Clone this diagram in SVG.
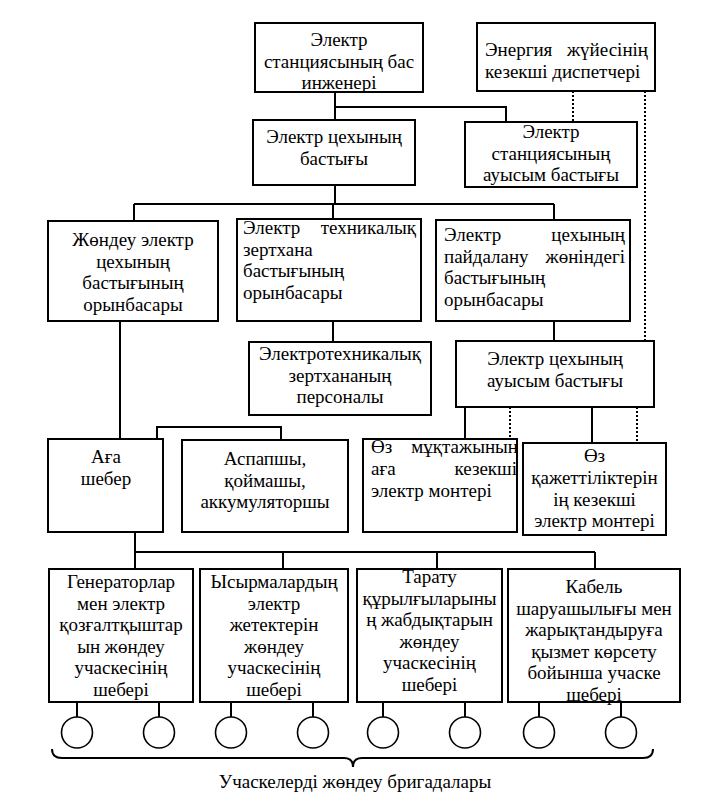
<svg xmlns="http://www.w3.org/2000/svg" width="714" height="808" viewBox="0 0 714 808">
<style>
text{font-family:"Liberation Serif","Times New Roman",serif;font-size:19px;fill:#000}
.c{text-anchor:middle}
.e{text-anchor:end}
.box{fill:#fff;stroke:#000;stroke-width:2}
.ln{fill:none;stroke:#000;stroke-width:2}
.dot{fill:none;stroke:#000;stroke-width:2;stroke-dasharray:2,2}
.cir{fill:#fff;stroke:#000;stroke-width:1.6}
</style>
<rect width="714" height="808" fill="#fff"/>
<g id="connectors">
<path class="ln" d="M335 92V120M335 107H506V122M335 185V204M134 204H554M134 204V221M333 204V219M554 204V220M333 321V342M554 321V341M120 321V439M157 439V427H281V440M465 407V439M592 407V443M135 532V569M135 552H595M283 552V569M437 552V569M595 552V569"/>
<path class="ln" d="M77 702V717M159 702V717M231 702V717M313 702V717M383 702V717M465 702V717M539 702V717M621 702V717"/>
<path class="dot" d="M573 91V122M645 91V341M510 407V439M637 407V443"/>
<path class="ln" stroke-width="1.6" d="M52 749Q52 758 62 758H344Q353 758 353 767Q353 758 362 758H643Q653 758 653 749"/>
</g>
<g id="n1"><rect class="box" x="255" y="23" width="168" height="69"/>
<text class="c" x="339" y="46">Электр</text><text class="c" x="339" y="67.5">станциясының бас</text><text class="c" x="339" y="89">инженері</text></g>
<g id="n2"><rect class="box" x="477" y="23" width="178" height="68"/>
<text x="485" y="56">Энергия</text><text class="e" x="648" y="56">жүйесінің</text><text x="485" y="78">кезекші диспетчері</text></g>
<g id="n3"><rect class="box" x="253" y="120" width="162" height="65"/>
<text class="c" x="334" y="143">Электр цехының</text><text class="c" x="334" y="165">бастығы</text></g>
<g id="n4"><rect class="box" x="465" y="122" width="172" height="65"/>
<text class="c" x="551" y="138">Электр</text><text class="c" x="551" y="159.5">станциясының</text><text class="c" x="551" y="181">ауысым бастығы</text></g>
<g id="n5"><rect class="box" x="48" y="221" width="170" height="100"/>
<text class="c" x="133" y="246">Жөндеу электр</text><text class="c" x="133" y="267.5">цехының</text><text class="c" x="133" y="289">бастығының</text><text class="c" x="133" y="310.5">орынбасары</text></g>
<g id="n6"><rect class="box" x="237" y="219" width="184" height="102"/>
<text x="243" y="234">Электр</text><text class="e" x="416" y="234">техникалық</text><text x="243" y="255.5">зертхана</text><text x="243" y="277">бастығының</text><text x="243" y="298.5">орынбасары</text></g>
<g id="n7"><rect class="box" x="436" y="220" width="194" height="101"/>
<text x="444" y="241">Электр</text><text class="e" x="625" y="241">цехының</text><text x="444" y="262.5">пайдалану</text><text class="e" x="625" y="262.5">жөніндегі</text><text x="444" y="284">бастығының</text><text x="444" y="305.5">орынбасары</text></g>
<g id="n8"><rect class="box" x="249" y="342" width="182" height="73"/>
<text class="c" x="340" y="360">Электротехникалық</text><text class="c" x="340" y="381.5">зертхананың</text><text class="c" x="340" y="403">персоналы</text></g>
<g id="n9"><rect class="box" x="456" y="341" width="198" height="66"/>
<text class="c" x="555" y="365">Электр цехының</text><text class="c" x="555" y="387">ауысым бастығы</text></g>
<g id="n10"><rect class="box" x="48" y="439" width="115" height="93"/>
<text class="c" x="106" y="463">Аға</text><text class="c" x="106" y="485">шебер</text></g>
<g id="n11"><rect class="box" x="182" y="440" width="166" height="92"/>
<text class="c" x="265" y="465">Аспапшы,</text><text class="c" x="265" y="486.5">қоймашы,</text><text class="c" x="265" y="508">аккумуляторшы</text></g>
<g id="n12"><rect class="box" x="363" y="439" width="154" height="93"/>
<text x="371" y="453">Өз</text><text class="e" x="518" y="453">мұқтажының</text><text x="371" y="475">аға</text><text class="e" x="517" y="475">кезекші</text><text x="371" y="497">электр монтері</text></g>
<g id="n13"><rect class="box" x="523" y="443" width="143" height="92"/>
<text class="c" x="594.5" y="462">Өз</text><text class="c" x="594.5" y="484">қажеттіліктерін</text><text class="c" x="594.5" y="505.5">ің кезекші</text><text class="c" x="594.5" y="527">электр монтері</text></g>
<g id="n14"><rect class="box" x="49" y="569" width="144" height="133"/>
<text class="c" x="121" y="588">Генераторлар</text><text class="c" x="121" y="609.5">мен электр</text><text class="c" x="121" y="631">қозғалтқыштар</text><text class="c" x="121" y="652.5">ын жөндеу</text><text class="c" x="121" y="674">учаскесінің</text><text class="c" x="121" y="695.5">шебері</text></g>
<g id="n15"><rect class="box" x="200" y="569" width="148" height="133"/>
<text class="c" x="274" y="588">Ысырмалардың</text><text class="c" x="274" y="609.5">электр</text><text class="c" x="274" y="631">жетектерін</text><text class="c" x="274" y="652.5">жөндеу</text><text class="c" x="274" y="674">учаскесінің</text><text class="c" x="274" y="695.5">шебері</text></g>
<g id="n16"><rect class="box" x="357" y="569" width="145" height="133"/>
<text class="c" x="429.5" y="583">Тарату</text><text class="c" x="429.5" y="604.5">құрылғыларыны</text><text class="c" x="429.5" y="626">ң жабдықтарын</text><text class="c" x="429.5" y="647.5">жөндеу</text><text class="c" x="429.5" y="669">учаскесінің</text><text class="c" x="429.5" y="690.5">шебері</text></g>
<g id="n17"><rect class="box" x="508" y="569" width="172" height="133"/>
<text class="c" x="594" y="593">Кабель</text><text class="c" x="594" y="614.5">шаруашылығы мен</text><text class="c" x="594" y="636">жарықтандыруға</text><text class="c" x="594" y="657.5">қызмет көрсету</text><text class="c" x="594" y="679">бойынша учаске</text><text class="c" x="594" y="700.5">шебері</text></g>
<g id="brigades">
<circle class="cir" cx="77" cy="732.5" r="15.5"/><circle class="cir" cx="159" cy="732.5" r="15.5"/><circle class="cir" cx="231" cy="732.5" r="15.5"/><circle class="cir" cx="313" cy="732.5" r="15.5"/><circle class="cir" cx="383" cy="732.5" r="15.5"/><circle class="cir" cx="465" cy="732.5" r="15.5"/><circle class="cir" cx="539" cy="732.5" r="15.5"/><circle class="cir" cx="621" cy="732.5" r="15.5"/>
<text class="c" x="355" y="788">Учаскелерді жөндеу бригадалары</text>
</g>
</svg>
